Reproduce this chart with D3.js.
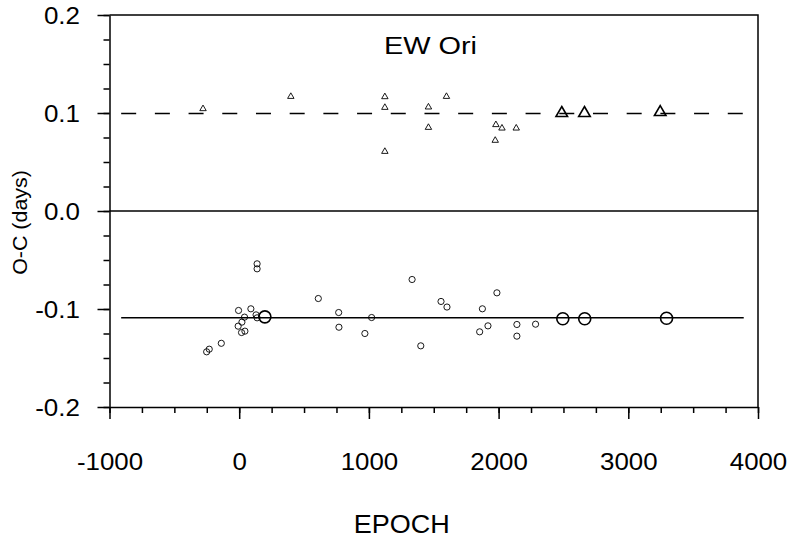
<!DOCTYPE html>
<html>
<head>
<meta charset="utf-8">
<script src="https://cdn.jsdelivr.net/npm/d3@7"></script>
<style>
  body { margin: 0; background: #fff; }
  text { font-family: "Liberation Sans", Arial, sans-serif; fill: #000; }
</style>
</head>
<body>
<svg id="chart" width="790" height="543"></svg>
<script>
// O-C values
var triEpoch = [-279, 398, 1123, 1123, 1123, 1459, 1459, 1598, 1979, 2026, 2136, 1974];
var triOC    = [0.1043, 0.1168, 0.1165, 0.1056, 0.0607, 0.106, 0.0852, 0.1168, 0.088, 0.0845, 0.0845, 0.072];

var bigTriEpoch = [2487, 2662, 3246];
var bigTriOC    = [0.0998, 0.0998, 0.1008];

var circEpoch = [-251, -231, -138, -5, -8, 21, 18, 44, 41, 90, 138, 138, 130, 138,
                 610, 767, 769, 969, 1021, 1333, 1400, 1556, 1602, 1854, 1875, 1918,
                 1987, 2141, 2141, 2285];
var circOC    = [-0.1437, -0.141, -0.135, -0.1015, -0.1175, -0.1134, -0.124, -0.1226, -0.1083, -0.0998,
                 -0.0539, -0.059, -0.106, -0.109,
                 -0.0893, -0.1036, -0.1186, -0.125, -0.1087, -0.0699, -0.1376, -0.0923, -0.098,
                 -0.1233, -0.0998, -0.1172, -0.0835, -0.1158, -0.1277, -0.1155];

var bigCircEpoch = [198, 2495, 2664, 3295];
var bigCircOC    = [-0.108, -0.110, -0.110, -0.1094];

var upperLevel = 0.0995, lowerLevel = -0.109;
var lineRange = [-910, 3890];

var xMajor = [-1000, 0, 1000, 2000, 3000, 4000];
var yMajor = [-0.2, -0.1, 0.0, 0.1, 0.2];

var margin = {top: 15, left: 109.5},
    width = 758 - margin.left,
    height = 407 - margin.top;

var x = d3.scaleLinear().domain([-1000, 4000]).range([0, width]);
var y = d3.scaleLinear().domain([-0.2, 0.2]).range([height, 0]);

var svg = d3.select("#chart")
  .append("g")
    .attr("transform", "translate(" + margin.left + "," + margin.top + ")");

// frame top + right
svg.append("path")
    .attr("d", "M0,0H" + width + "V" + height)
    .attr("fill", "none")
    .attr("stroke", "#000")
    .attr("stroke-width", 1.5);

// minor ticks
svg.append("g")
    .attr("transform", "translate(0," + height + ")")
    .call(d3.axisBottom(x).tickValues(d3.range(-1000, 4001, 250)).tickSize(6).tickFormat(""))
    .call(function(g) { g.select(".domain").remove(); });
svg.append("g")
    .call(d3.axisLeft(y).tickValues(d3.range(-8, 9).map(function(i) { return i * 0.025; })).tickSize(6).tickFormat(""))
    .call(function(g) { g.select(".domain").remove(); });

// major axes
var xAxis = d3.axisBottom(x).tickValues(xMajor).tickSize(12).tickSizeOuter(0).tickFormat(d3.format("d"));
var yAxis = d3.axisLeft(y).tickValues(yMajor).tickSize(12).tickSizeOuter(0).tickFormat(d3.format(".1f"));

svg.append("g")
    .attr("class", "x axis")
    .attr("transform", "translate(0," + height + ")")
    .call(xAxis)
    .selectAll("text")
      .attr("y", 63)
      .attr("dy", null)
      .style("font-size", "23.5px")
      .attr("transform", "scale(1.1,1)")
      .text(function(d) { return d3.format("d")(d).replace("\u2212", "-"); });

svg.append("g")
    .attr("class", "y axis")
    .call(yAxis)
    .selectAll("text")
      .attr("x", 0)
      .attr("dy", "0.36em")
      .style("font-size", "23px")
      .attr("transform", "translate(-29.5,0) scale(1.13,1)")
      .text(function(d) { return d3.format(".1f")(d).replace("\u2212", "-"); });

svg.selectAll(".domain, .tick line")
    .attr("stroke", "#000")
    .attr("stroke-width", 1.5);

// zero line
svg.append("line")
    .attr("x1", 0).attr("x2", width)
    .attr("y1", y(0)).attr("y2", y(0))
    .attr("stroke", "#000")
    .attr("stroke-width", 1.5);

// mean levels
svg.append("line")
    .attr("x1", x(lineRange[0])).attr("x2", x(lineRange[1]))
    .attr("y1", y(upperLevel)).attr("y2", y(upperLevel))
    .attr("stroke", "#000")
    .attr("stroke-width", 1.4)
    .attr("stroke-dasharray", "15,18.7");

svg.append("line")
    .attr("x1", x(lineRange[0])).attr("x2", x(lineRange[1]))
    .attr("y1", y(lowerLevel)).attr("y2", y(lowerLevel))
    .attr("stroke", "#000")
    .attr("stroke-width", 1.4);

// symbols
var smallTri = d3.symbol().type(d3.symbolTriangle).size(18);
var bigTri = d3.symbol().type(d3.symbolTriangle).size(58);

svg.selectAll(".tri")
    .data(d3.range(triEpoch.length))
  .enter().append("path")
    .attr("class", "tri")
    .attr("d", smallTri)
    .attr("transform", function(i) { return "translate(" + x(triEpoch[i]) + "," + y(triOC[i]) + ")"; })
    .attr("fill", "none")
    .attr("stroke", "#000")
    .attr("stroke-width", 0.9);

svg.selectAll(".bigtri")
    .data(d3.range(bigTriEpoch.length))
  .enter().append("path")
    .attr("class", "bigtri")
    .attr("d", bigTri)
    .attr("transform", function(i) { return "translate(" + x(bigTriEpoch[i]) + "," + y(bigTriOC[i]) + ")"; })
    .attr("fill", "none")
    .attr("stroke", "#000")
    .attr("stroke-width", 1.6);

svg.selectAll(".circ")
    .data(d3.range(circEpoch.length))
  .enter().append("circle")
    .attr("class", "circ")
    .attr("cx", function(i) { return x(circEpoch[i]); })
    .attr("cy", function(i) { return y(circOC[i]); })
    .attr("r", 3.1)
    .attr("fill", "none")
    .attr("stroke", "#000")
    .attr("stroke-width", 0.9);

svg.selectAll(".bigcirc")
    .data(d3.range(bigCircEpoch.length))
  .enter().append("circle")
    .attr("class", "bigcirc")
    .attr("cx", function(i) { return x(bigCircEpoch[i]); })
    .attr("cy", function(i) { return y(bigCircOC[i]); })
    .attr("r", 6)
    .attr("fill", "none")
    .attr("stroke", "#000")
    .attr("stroke-width", 1.6);

// labels
var root = d3.select("#chart");

root.append("text")
    .attr("transform", "translate(430.5,54.3) scale(1.18,1)")
    .attr("text-anchor", "middle")
    .style("font-size", "24.5px")
    .text("EW Ori");

root.append("text")
    .attr("transform", "translate(401.7,533.3) scale(1.06,1)")
    .attr("text-anchor", "middle")
    .style("font-size", "25.5px")
    .text("EPOCH");

root.append("text")
    .attr("transform", "translate(27,222.5) rotate(-90) scale(1.07,1)")
    .attr("text-anchor", "middle")
    .style("font-size", "20px")
    .text("O-C (days)");
</script>
</body>
</html>
